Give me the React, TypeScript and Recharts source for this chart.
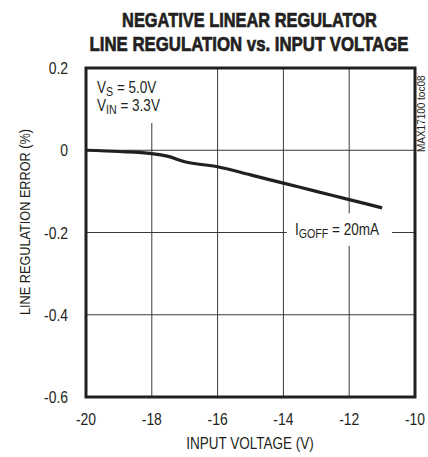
import React from "react";
import { LineChart, Line, XAxis, YAxis, CartesianGrid, ReferenceArea } from "recharts";

const inputVoltage = [-20, -19, -18, -17.5, -17, -16, -15, -14, -13, -12, -11];
const regulationError = [0, -0.003, -0.008, -0.015, -0.028, -0.04, -0.06, -0.08, -0.1, -0.12, -0.14];
const xTicks = [-20, -18, -16, -14, -12, -10];
const yTicks = [-0.6, -0.4, -0.2, 0, 0.2];

const data = inputVoltage.map((v, i) => ({ v, err: regulationError[i] }));

const FONT = '"Liberation Sans", Arial, sans-serif';
const INK = "#231f20";
const SX = 0.82;

const fmtY = (v: number) => (v === 0 ? "0" : v.toFixed(1));

type NTProps = {
  x: number;
  y: number;
  size: number;
  anchor?: "start" | "middle" | "end";
  rotate?: number;
  sx?: number;
  weight?: string;
  dy?: string;
  stroke?: number;
  children: React.ReactNode;
};

function NText({ x, y, size, anchor = "start", rotate = 0, sx = SX, weight = "normal", dy, stroke = 0, children }: NTProps) {
  return (
    <g transform={`translate(${x} ${y}) rotate(${rotate}) scale(${sx} 1)`}>
      <text
        x={0}
        y={0}
        dy={dy}
        fontSize={size}
        textAnchor={anchor}
        fontFamily={FONT}
        fontWeight={weight}
        fill={INK}
        stroke={stroke > 0 ? INK : "none"}
        strokeWidth={stroke}
      >
        {children}
      </text>
    </g>
  );
}

function XTick(props: any) {
  const { x, y, payload } = props;
  return (
    <NText x={x} y={y} size={17} anchor="middle" dy="0.71em">
      {String(payload.value)}
    </NText>
  );
}

function YTick(props: any) {
  const { x, y, payload } = props;
  return (
    <NText x={x} y={y} size={17} anchor="end" dy="0.355em">
      {fmtY(payload.value)}
    </NText>
  );
}

export default function App() {
  return (
    <div style={{ position: "fixed", left: 0, top: 0, width: 428, height: 457, background: "#fff" }}>
      <LineChart
        width={428}
        height={457}
        data={data}
        margin={{ top: 68, right: 13, left: 0, bottom: 0 }}
      >
        <CartesianGrid stroke="#3a3a3a" strokeWidth={1} />
        <XAxis
          dataKey="v"
          type="number"
          domain={[-20, -10]}
          ticks={xTicks}
          height={60}
          axisLine={false}
          tickLine={false}
          tickSize={0}
          tickMargin={16}
          tick={<XTick />}
        />
        <YAxis
          type="number"
          domain={[-0.6, 0.2]}
          ticks={yTicks}
          width={86}
          axisLine={false}
          tickLine={false}
          tickSize={0}
          tickMargin={18}
          tick={<YTick />}
        />
        <ReferenceArea x1={-20} x2={-17.7} y1={0.066} y2={0.2} fill="#fff" fillOpacity={1} stroke="none" />
        <ReferenceArea x1={-13.9} x2={-10.7} y1={-0.233} y2={-0.153} fill="#fff" fillOpacity={1} stroke="none" />
        <Line
          type="monotone"
          dataKey="err"
          stroke={INK}
          strokeWidth={3.2}
          dot={false}
          isAnimationActive={false}
        />
        <ReferenceArea x1={-20} x2={-10} y1={-0.6} y2={0.2} fill="none" stroke={INK} strokeWidth={3} />
      </LineChart>
      <svg
        width={428}
        height={457}
        style={{ position: "absolute", left: 0, top: 0, pointerEvents: "none" }}
      >
        <NText x={249.5} y={27} size={21} anchor="middle" weight="bold" sx={0.78} stroke={0.7}>
          NEGATIVE LINEAR REGULATOR
        </NText>
        <NText x={249} y={51} size={21} anchor="middle" weight="bold" sx={0.8} stroke={0.7}>
          LINE REGULATION vs. INPUT VOLTAGE
        </NText>
        <NText x={97} y={93} size={16.5}>
          V<tspan fontSize={13} dy={3}>S</tspan><tspan dy={-3}> = 5.0V</tspan>
        </NText>
        <NText x={97} y={111} size={16.5}>
          V<tspan fontSize={13} dy={3}>IN</tspan><tspan dy={-3}> = 3.3V</tspan>
        </NText>
        <NText x={295} y={235} size={16.5}>
          I<tspan fontSize={13} dy={3}>GOFF</tspan><tspan dy={-3}> = 20mA</tspan>
        </NText>
        <NText x={250} y={449} size={16.5} anchor="middle">
          INPUT VOLTAGE (V)
        </NText>
        <NText x={30} y={222} size={15.5} anchor="middle" rotate={-90}>
          LINE REGULATION ERROR (%)
        </NText>
        <NText x={425} y={152} size={10.5} rotate={-90} sx={0.95}>
          MAX17100 toc08
        </NText>
      </svg>
    </div>
  );
}
